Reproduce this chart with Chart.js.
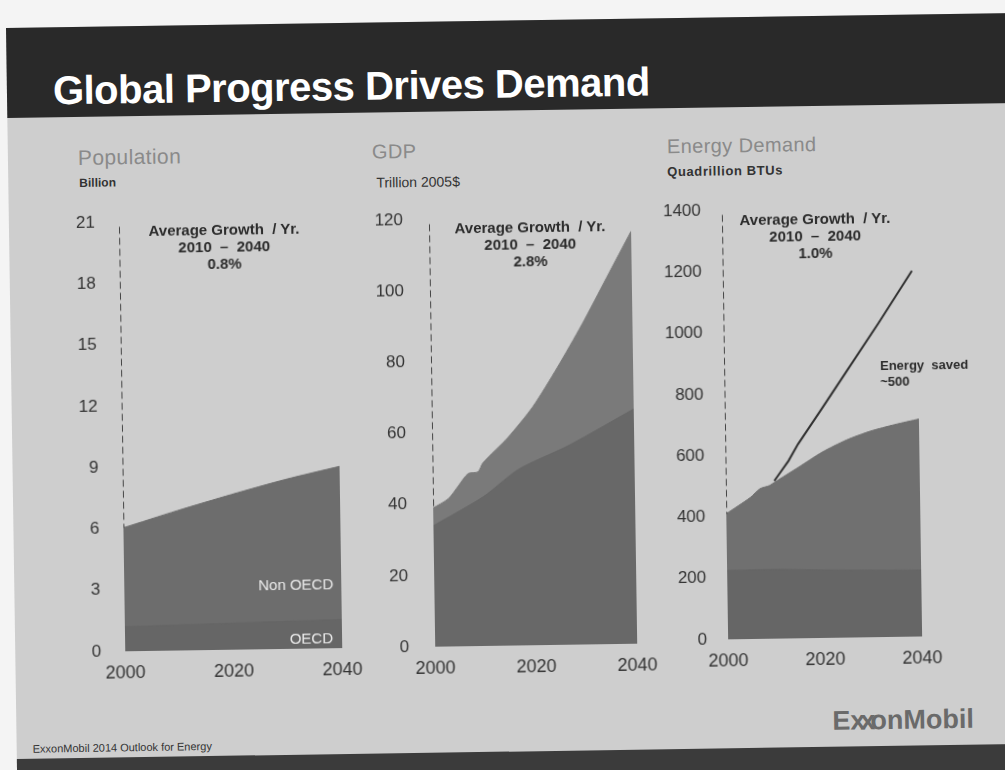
<!DOCTYPE html>
<html>
<head>
<meta charset="utf-8">
<script src="https://cdn.jsdelivr.net/npm/chart.js@4.4.1/dist/chart.umd.min.js"></script>
<style>
  html, body { margin: 0; padding: 0; width: 1005px; height: 770px; overflow: hidden; background: #f4f4f4;
    font-family: "Liberation Sans", Arial, sans-serif; }
  /* the slide sits slightly tilted on the page */
  #slide { position: absolute; left: 6px; top: 28px; width: 1040px; height: 760px; background: #cecece;
    transform-origin: 0 0; transform: rotate(-0.85deg); }
  #header { position: absolute; left: 0; top: 0; width: 100%; height: 90px; background: #292929; }
  #band { position: absolute; left: 0; top: 731px; width: 100%; height: 40px; background: #3b3b3b; }
  .t { position: absolute; white-space: pre; line-height: 1; }
  .note { position: absolute; width: 220px; text-align: center; font-weight: bold; font-size: 15px;
    line-height: 17px; color: #2b2b2b; white-space: pre; }
  .panel-title { font-size: 20px; color: #8a8a8a; letter-spacing: 0.4px; }
  .unit { font-size: 12px; font-weight: bold; color: #333; }
  canvas { position: absolute; }
</style>
</head>
<body>
<div id="slide">
  <div id="header"></div>
  <div class="t" style="left:46px;top:43px;font-size:40px;font-weight:bold;color:#fff;letter-spacing:-0.5px">Global Progress Drives Demand</div>

  <div class="t panel-title" style="left:70px;top:120px;font-size:21px">Population</div>
  <div class="t unit" style="left:71px;top:150px">Billion</div>
  <div class="t panel-title" style="left:364px;top:119px">GDP</div>
  <div class="t unit" style="left:368px;top:153px;font-weight:normal;font-size:14px">Trillion 2005$</div>
  <div class="t panel-title" style="left:659px;top:118px">Energy Demand</div>
  <div class="t unit" style="left:659px;top:147px;font-size:13px;letter-spacing:0.6px">Quadrillion BTUs</div>

  <canvas id="pop" width="327" height="495" style="left:30px;top:170px"></canvas>
  <canvas id="gdp" width="312" height="495" style="left:340px;top:170px"></canvas>
  <canvas id="energy" width="304" height="492" style="left:633px;top:170px"></canvas>

  <div class="note" style="left:105px;top:196px">Average Growth  / Yr.
2010  –  2040
0.8%</div>
  <div class="note" style="left:411px;top:198px">Average Growth  / Yr.
2010  –  2040
2.8%</div>
  <div class="note" style="left:696px;top:194px">Average Growth  / Yr.
2010  –  2040
1.0%</div>

  <div class="t" style="left:199px;width:120px;text-align:right;top:553px;font-size:15px;color:#ececec">Non OECD</div>
  <div class="t" style="left:198px;width:120px;text-align:right;top:607px;font-size:15px;color:#ececec">OECD</div>
  <div class="t" style="left:869px;top:343px;font-size:13px;font-weight:bold;color:#2b2b2b;line-height:16px">Energy  saved
~500</div>

  <div class="t" style="left:816px;top:692px;font-size:27px;font-weight:bold;color:#6a6a6a">E<span style="letter-spacing:-5px">xx</span>onMobil</div>
  <div class="t" style="left:16px;top:716px;font-size:11px;color:#333">ExxonMobil 2014 Outlook for Energy</div>
  <div id="band"></div>
</div>

<script>
// Population, billion
const popYears = [2000, 2010, 2020, 2030, 2040];
const popTotal = [6.05, 6.85, 7.6, 8.3, 8.9];
const popOecd = [1.2, 1.25, 1.3, 1.35, 1.4];
const popTicks = [0, 3, 6, 9, 12, 15, 18, 21];

// GDP, trillion 2005$
const gdpYears = [2000, 2003, 2005, 2007, 2009, 2010, 2015, 2020, 2025, 2030, 2035, 2040];
const gdpTotal = [39, 41.5, 45, 48.5, 49, 51.5, 58.5, 67, 78, 90, 103, 116];
const gdpOecdYears = [2000, 2010, 2017, 2027, 2040];
const gdpOecd = [34, 42, 49.5, 56, 66];
const gdpTicks = [0, 20, 40, 60, 80, 100, 120];

// Energy demand, quadrillion BTUs
const energyYears = [2000, 2005, 2007, 2009, 2010, 2015, 2020, 2025, 2030, 2035, 2040];
const energyTotal = [410, 462, 490, 500, 510, 558, 607, 645, 673, 693, 710];
const energyOecdYears = [2000, 2010, 2020, 2030, 2040];
const energyOecd = [225, 226, 222, 219, 217];
const noSavingYears = [2010, 2013, 2015, 2020, 2025, 2032, 2039];
const noSaving = [515, 580, 634, 748, 864, 1026, 1194];
const energyTicks = [0, 200, 400, 600, 800, 1000, 1200, 1400];

const yearTicks = [2000, 2020, 2040];

Chart.defaults.font.family = '"Liberation Sans", Arial, sans-serif';

const pts = (xs, ys) => xs.map((x, i) => ({ x, y: ys[i] }));

function area(xs, ys, color, order) {
  return {
    data: pts(xs, ys), backgroundColor: color, borderColor: color, borderWidth: 1,
    fill: 'origin', pointRadius: 0, tension: 0.25, order
  };
}

// dashed marker at 2000 running from the top of the axis down to the first value
function guide(top, bottom) {
  return {
    data: [{ x: 2000, y: top }, { x: 2000, y: bottom }], borderColor: '#222', borderWidth: 1.6,
    borderDash: [7, 4], pointRadius: 0, fill: false, order: -1
  };
}

function panel(id, datasets, ticks, tickPad) {
  new Chart(document.getElementById(id), {
    type: 'line',
    data: { datasets },
    options: {
      responsive: false, animation: false, devicePixelRatio: 1,
      layout: { padding: { top: 20, right: 30, left: 0, bottom: 0 } },
      plugins: { legend: { display: false }, tooltip: { enabled: false } },
      scales: {
        x: {
          type: 'linear', min: yearTicks[0], max: yearTicks[yearTicks.length - 1],
          grid: { display: false }, border: { display: false },
          afterBuildTicks: s => { s.ticks = yearTicks.map(v => ({ value: v })); },
          afterFit: s => { s.height = 40; },
          ticks: { padding: 3, color: '#333', font: { size: 18 }, maxRotation: 0, callback: v => String(v) }
        },
        y: {
          min: 0, max: ticks[ticks.length - 1],
          grid: { display: false }, border: { display: false },
          afterBuildTicks: s => { s.ticks = ticks.map(v => ({ value: v })); },
          afterFit: s => { s.width = 80; },
          ticks: { padding: tickPad, color: '#333', font: { size: 17 }, callback: v => String(v) }
        }
      }
    }
  });
}

panel('pop', [
  area(popYears, popOecd, '#666666', 0),
  area(popYears, popTotal, '#6d6d6d', 1),
  guide(popTicks[popTicks.length - 1] * 0.99, popTotal[0])
], popTicks, 16);

panel('gdp', [
  area(gdpOecdYears, gdpOecd, '#686868', 0),
  area(gdpYears, gdpTotal, '#7a7a7a', 1),
  guide(gdpTicks[gdpTicks.length - 1] * 0.99, gdpTotal[0])
], gdpTicks, 18);

panel('energy', [
  {
    data: pts(noSavingYears, noSaving), borderColor: '#2f2f2f', borderWidth: 2,
    pointRadius: 0, fill: false, tension: 0, order: -2
  },
  area(energyOecdYears, energyOecd, '#666666', 0),
  area(energyYears, energyTotal, '#707070', 1),
  guide(energyTicks[energyTicks.length - 1] * 0.99, energyTotal[0])
], energyTicks, 13);
</script>
</body>
</html>
